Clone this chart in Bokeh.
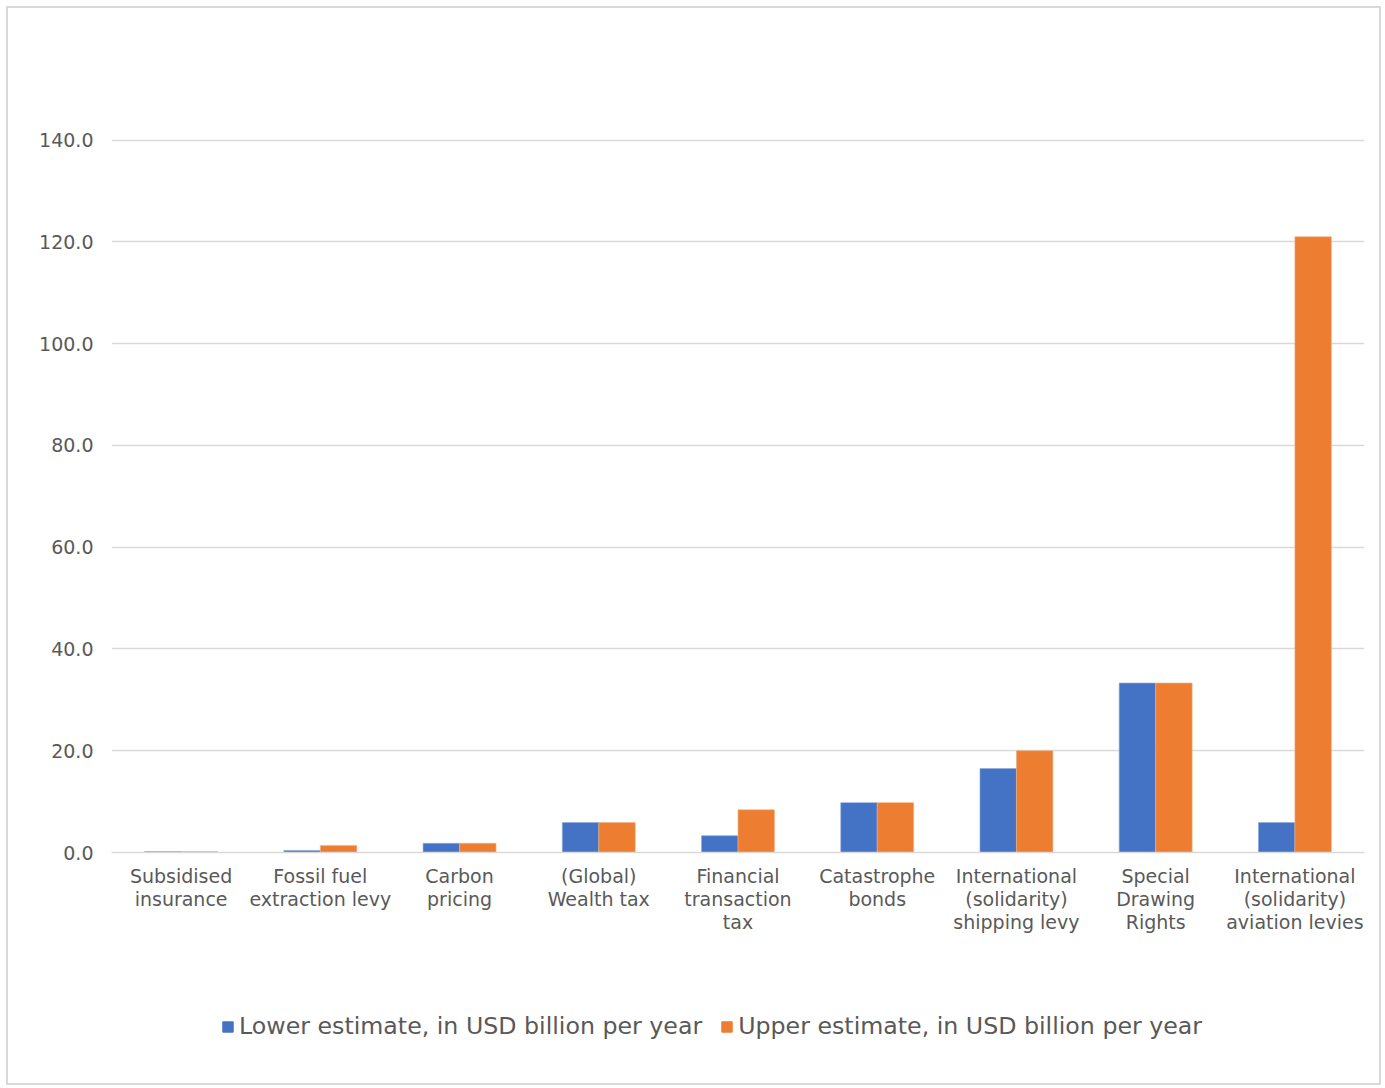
from bokeh.plotting import figure
from bokeh.layouts import column
from bokeh.models import ColumnDataSource, FactorRange, Legend, LegendItem, NumeralTickFormatter, FixedTicker
from bokeh.transform import dodge
from bokeh.embed import file_html
from bokeh.resources import INLINE

categories = ["Subsidised\ninsurance", "Fossil fuel\nextraction levy", "Carbon\npricing",
              "(Global)\nWealth tax", "Financial\ntransaction\ntax", "Catastrophe\nbonds",
              "International\n(solidarity)\nshipping levy", "Special\nDrawing\nRights",
              "International\n(solidarity)\naviation levies"]
lower = [0.2, 0.4, 1.8, 5.9, 3.3, 9.8, 16.5, 33.3, 5.9]
upper = [0.2, 1.4, 1.8, 5.9, 8.4, 9.8, 20.0, 33.3, 121.0]
y_ticks = [0, 20, 40, 60, 80, 100, 120, 140]
series_names = ["Lower estimate, in USD billion per year", "Upper estimate, in USD billion per year"]
colors = ["#4472C4", "#ED7D31"]
edge_colors = ["#8faadc", "#f4b183"]

src = ColumnDataSource(dict(cat=categories, lower=lower, upper=upper))

p = figure(x_range=FactorRange(*categories), y_range=(0, 140.3), width=1371, height=975,
           output_backend="svg", toolbar_location=None,
           min_border_left=103, min_border_right=15, min_border_top=130, min_border_bottom=131)

bw = 0.262
r1 = p.vbar(x=dodge("cat", -bw / 2, range=p.x_range), top="lower", width=bw, source=src,
            fill_color=colors[0], line_color=edge_colors[0], line_width=0.6)
r2 = p.vbar(x=dodge("cat", bw / 2, range=p.x_range), top="upper", width=bw, source=src,
            fill_color=colors[1], line_color=edge_colors[1], line_width=0.6)

p.outline_line_color = None
p.background_fill_color = "white"
p.border_fill_color = "white"
p.x_range.range_padding = 0
p.x_range.factor_padding = 0

p.yaxis.ticker = FixedTicker(ticks=y_ticks)
p.yaxis.formatter = NumeralTickFormatter(format="0.0")
p.yaxis.axis_line_color = None
p.yaxis.major_tick_line_color = None
p.yaxis.minor_tick_line_color = None
p.yaxis.major_label_text_font = "DejaVu Sans"
p.yaxis.major_label_text_font_size = "19px"
p.yaxis.major_label_text_color = "#595959"
p.yaxis.major_label_standoff = 12

p.xaxis.axis_line_color = "#d9d9d9"
p.xaxis.axis_line_width = 1.5
p.xaxis.major_tick_line_color = None
p.xaxis.minor_tick_line_color = None
p.xaxis.major_label_text_font = "DejaVu Sans"
p.xaxis.major_label_text_font_size = "19px"
p.xaxis.major_label_text_color = "#595959"
p.xaxis.major_label_text_line_height = 1.05
p.xaxis.major_label_standoff = 6

p.xgrid.grid_line_color = None
p.ygrid.grid_line_color = "#d9d9d9"
p.ygrid.grid_line_width = 1.5

# legend figure (dummy glyphs kept far outside the visible range)
p2 = figure(x_range=(0, 1), y_range=(0, 1), width=1371, height=100,
            output_backend="svg", toolbar_location=None,
            min_border=0, min_border_left=0, min_border_right=0, min_border_top=0, min_border_bottom=0)
p2.axis.visible = False
p2.grid.visible = False
p2.outline_line_color = None
p2.border_fill_color = "white"
dummy = ColumnDataSource(dict(x=[-100], top=[-100], bottom=[-200]))
d1 = p2.vbar(x="x", top="top", bottom="bottom", width=0.1, source=dummy,
             fill_color=colors[0], line_color=colors[0])
d2 = p2.vbar(x="x", top="top", bottom="bottom", width=0.1, source=dummy,
             fill_color=colors[1], line_color=colors[1])

legend = Legend(items=[LegendItem(label=series_names[0], renderers=[d1]),
                       LegendItem(label=series_names[1], renderers=[d2])],
                orientation="horizontal", location=(110, 43),
                label_text_font="DejaVu Sans", label_text_font_size="23.7px",
                label_text_color="#595959", glyph_width=13, glyph_height=13,
                spacing=18, label_standoff=5, border_line_color=None,
                padding=0, margin=0, background_fill_alpha=0)
p2.add_layout(legend, "center")

layout = column(p, p2, spacing=0)
layout.styles = {"border": "2px solid #d9d9d9", "margin-left": "6px", "margin-top": "6px"}

open("out.html", "w").write(file_html(layout, INLINE))
